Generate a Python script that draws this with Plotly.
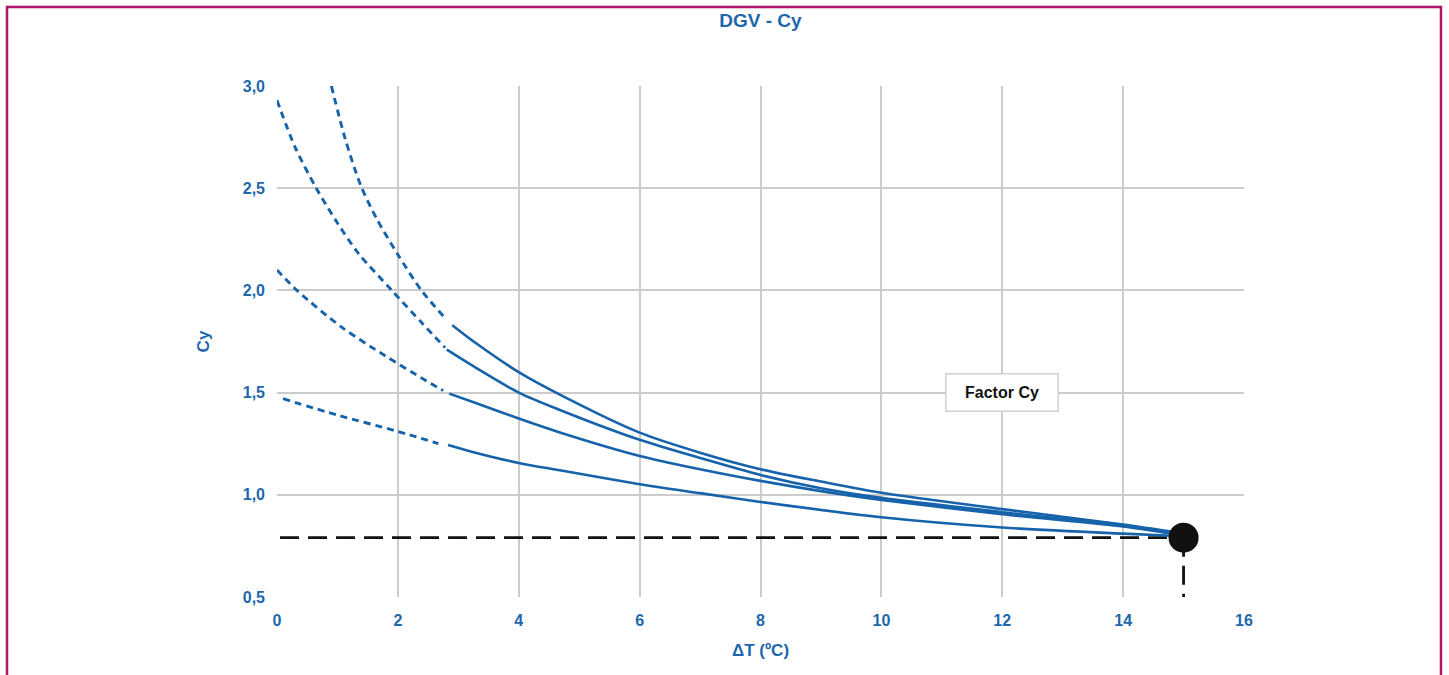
import plotly.graph_objects as go

# ---- data ----
c1_dash_x = [0.9, 1.13, 1.39, 1.65, 1.99, 2.39, 2.78]
c1_dash_y = [3.0, 2.74, 2.51, 2.35, 2.18, 2.0, 1.865]
c1_x = [2.9, 3.3, 4.0, 4.68, 6.0, 7.0, 8.0, 9.0, 10.0, 12.0, 14.0, 14.8]
c1_y = [1.83, 1.74, 1.60, 1.49, 1.304, 1.206, 1.125, 1.065, 1.01, 0.93, 0.855, 0.82]

c2_dash_x = [0.0, 0.3, 0.65, 1.0, 1.35, 1.9, 2.4, 2.78]
c2_dash_y = [2.93, 2.70, 2.5, 2.33, 2.18, 2.0, 1.84, 1.72]
c2_x = [2.81, 3.3, 4.0, 4.68, 6.0, 7.0, 8.0, 9.0, 10.0, 12.0, 14.0, 14.8]
c2_y = [1.71, 1.62, 1.50, 1.415, 1.269, 1.18, 1.097, 1.032, 0.985, 0.915, 0.85, 0.815]

c3_dash_x = [0.0, 0.33, 1.07, 1.79, 2.4, 2.75]
c3_dash_y = [2.1, 2.0, 1.82, 1.68, 1.57, 1.51]
c3_x = [2.85, 3.3, 4.0, 4.68, 6.0, 7.0, 8.0, 9.0, 10.0, 12.0, 14.0, 14.8]
c3_y = [1.495, 1.448, 1.373, 1.305, 1.19, 1.125, 1.068, 1.018, 0.975, 0.905, 0.845, 0.81]

c4_dash_x = [0.1, 1.0, 2.0, 2.67]
c4_dash_y = [1.47, 1.39, 1.31, 1.25]
c4_x = [2.83, 3.3, 4.0, 4.68, 6.0, 7.0, 8.0, 10.0, 12.0, 14.0, 14.8]
c4_y = [1.244, 1.205, 1.156, 1.12, 1.052, 1.008, 0.965, 0.89, 0.84, 0.81, 0.80]

point_x = [15.0]
point_y = [0.79]
ref_h_x = [0.05, 15.0]
ref_h_y = [0.79, 0.79]
ref_v_x = [15.0, 15.0]
ref_v_y = [0.79, 0.5]

x_ticks = [0, 2, 4, 6, 8, 10, 12, 14, 16]
y_ticks = [0.5, 1.0, 1.5, 2.0, 2.5, 3.0]

BLUE = "#1663ab"
TXT = "#1e67ac"
FONT = "Liberation Sans, Arial, sans-serif"

fig = go.Figure()

# reference lines
for rx, ry in [(ref_h_x, ref_h_y), (ref_v_x, ref_v_y)]:
    fig.add_trace(go.Scatter(x=rx, y=ry, mode="lines",
                             line=dict(color="#111111", width=2.8, dash="19px,9px"),
                             showlegend=False, hoverinfo="skip"))

for dx, dy, sx, sy in [(c1_dash_x, c1_dash_y, c1_x, c1_y),
                       (c2_dash_x, c2_dash_y, c2_x, c2_y),
                       (c3_dash_x, c3_dash_y, c3_x, c3_y),
                       (c4_dash_x, c4_dash_y, c4_x, c4_y)]:
    fig.add_trace(go.Scatter(x=dx, y=dy, mode="lines",
                             line=dict(color=BLUE, width=2.9, dash="7px,5px",
                                       shape="spline", smoothing=0.8),
                             showlegend=False))
    fig.add_trace(go.Scatter(x=sx, y=sy, mode="lines",
                             line=dict(color=BLUE, width=2.6, shape="spline",
                                       smoothing=0.8),
                             showlegend=False))

fig.add_trace(go.Scatter(x=point_x, y=point_y, mode="markers",
                         marker=dict(color="#111111", size=30),
                         showlegend=False))

fig.add_annotation(x=12, y=1.5, xref="x", yref="y", text="<b>Factor Cy</b>",
                   showarrow=False, bgcolor="white", bordercolor="#cfcfcf",
                   borderwidth=1.5, borderpad=8, width=95, height=20,
                   font=dict(family=FONT, size=16, color="#111111"))

# magenta frame
fig.add_shape(type="rect", xref="paper", yref="paper",
              x0=-0.2792, x1=1.2037, y0=-0.2, y1=1.1546,
              line=dict(color="#b0146c", width=2.5), fillcolor="rgba(0,0,0,0)",
              layer="below")

fig.update_layout(
    width=1449, height=675,
    margin=dict(l=277, r=205, t=86, b=78),
    paper_bgcolor="white", plot_bgcolor="white",
    separators=",.",
    title=dict(text="<b>DGV - Cy</b>", x=0.5, xref="paper", xanchor="center",
               y=1 - 20 / 675, yanchor="middle",
               font=dict(family=FONT, size=19, color=TXT)),
    font=dict(family=FONT, color=TXT),
    xaxis=dict(range=[0, 16], tickvals=x_ticks, showgrid=True,
               gridcolor="#cccccc", gridwidth=2, zeroline=False,
               showline=False, ticks="", ticklabelstandoff=12,
               tickfont=dict(family=FONT, size=16, color=TXT, weight="bold"),
               title=dict(text="<b>ΔT (ºC)</b>", standoff=16,
                          font=dict(family=FONT, size=17, color=TXT))),
    yaxis=dict(range=[0.5, 3.0], tickvals=y_ticks, tickformat=".1f",
               showgrid=True, gridcolor="#cccccc", gridwidth=2,
               zeroline=False, showline=False, ticks="", ticklabelstandoff=11,
               tickfont=dict(family=FONT, size=16, color=TXT, weight="bold"),
               title=dict(text="<b>Cy</b>", standoff=28,
                          font=dict(family=FONT, size=17, color=TXT))),
)

fig.write_html("out.html", config={"displayModeBar": False},
               post_script="document.body.style.margin='0px';")
